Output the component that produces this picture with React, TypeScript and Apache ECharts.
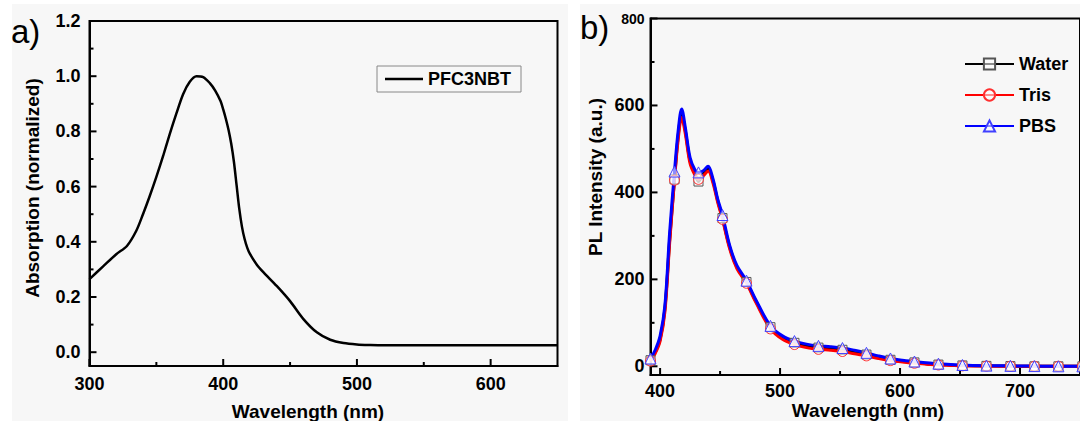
import React, { useEffect, useRef } from 'react';
import * as echarts from 'echarts';

const FONT = '"Liberation Sans", Arial, sans-serif';

// Panel a) absorption
const absWavelength = [300, 310, 320, 328, 335, 340, 345, 350, 355, 360, 365, 370, 375, 380, 385, 390, 394, 398, 400, 402, 404, 406, 408, 410, 412, 414, 416, 418, 420, 425, 430, 440, 450, 460, 470, 480, 490, 500, 510, 520, 560, 600, 650];
const absValue = [0.265, 0.31, 0.355, 0.385, 0.44, 0.5, 0.565, 0.635, 0.71, 0.79, 0.865, 0.935, 0.98, 1.0, 0.997, 0.975, 0.948, 0.91, 0.88, 0.845, 0.805, 0.755, 0.69, 0.605, 0.52, 0.455, 0.41, 0.378, 0.356, 0.318, 0.29, 0.24, 0.185, 0.12, 0.072, 0.045, 0.033, 0.028, 0.026, 0.025, 0.025, 0.025, 0.025];

// Panel b) PL spectra
const plWavelength = [392, 396, 400, 404, 408, 412, 415, 418, 421, 425, 429, 432, 436, 440, 444, 448, 452, 458, 464, 472, 480, 492, 502, 512, 522, 532, 542, 552, 562, 572, 582, 592, 602, 612, 622, 632, 642, 652, 672, 692, 712, 732, 752];
const waterPL = [14, 33, 62, 132, 292, 430, 528, 580, 542, 472, 444, 425, 443, 454, 427, 381, 341, 274, 228, 194, 149, 90, 66, 54, 47, 43, 41, 38, 33, 27, 21, 15, 12, 9, 6, 4, 3, 2, 1, 0.5, 0, 0, 0];
const trisPL = [12, 30, 58, 125, 285, 428, 520, 572, 535, 466, 440, 430, 438, 449, 422, 377, 338, 270, 225, 191, 146, 86, 62, 50, 43, 39, 37, 34, 29, 24, 18, 13, 10, 7, 5, 3, 2, 1, 0.5, 0, 0, 0, 0];
const pbsPL = [18, 38, 70, 140, 310, 448, 540, 592, 550, 480, 452, 446, 450, 460, 432, 385, 348, 278, 232, 197, 152, 93, 70, 58, 51, 47, 45, 42, 37, 31, 24, 18, 14, 11, 8, 6, 4, 3, 1.5, 1, 0.5, 0, 0];
const markerWavelengths = [392, 412, 432, 452, 472, 492, 512, 532, 552, 572, 592, 612, 632, 652, 672, 692, 712, 732, 752];

// Axis ranges and tick values
const absXRange = [300, 650];
const absYRange = [-0.05, 1.2];
const plXRange = [392, 750];
const plYRange = [-20, 800];
const absXMajor = [300, 400, 500, 600];
const absXMinor = [350, 450, 550];
const absYMajor = [0, 0.2, 0.4, 0.6, 0.8, 1.0, 1.2];
const absYMinor = [0.1, 0.3, 0.5, 0.7, 0.9, 1.1];
const plXMajor = [400, 500, 600, 700];
const plXMinor = [450, 550, 650];
const plYMajor = [0, 200, 400, 600, 800];
const plYMinor = [100, 300, 500, 700];

const MAJOR_LEN = 7;
const MINOR_LEN = 4;

const labelStyle = { fontSize: 18, fontWeight: 'bold', color: '#000', fontFamily: FONT };

function mainAxis(gridIndex: number, range: number[], position: string, values: number[], margin: number, formatter?: any) {
  const label: any = { ...labelStyle, margin, customValues: values };
  if (formatter) label.formatter = formatter;
  return {
    type: 'value',
    gridIndex,
    min: range[0],
    max: range[1],
    position,
    axisLine: { show: true, onZero: false, lineStyle: { color: '#000', width: 2 } },
    axisTick: { show: false },
    axisLabel: label,
    splitLine: { show: false },
  };
}

// inward tick marks drawn through the axes' scales (custom series)
function tickSeries(name: string, axisIndex: number, dir: 'x' | 'y', major: number[], minor: number[], otherMin: number) {
  const items = major.map((v) => [v, MAJOR_LEN]).concat(minor.map((v) => [v, MINOR_LEN]));
  const data = items.map(([v, len]) => (dir === 'x' ? [v, otherMin, len] : [otherMin, v, len]));
  return {
    type: 'custom',
    name,
    xAxisIndex: axisIndex,
    yAxisIndex: axisIndex,
    clip: false,
    silent: true,
    z: 3,
    data,
    encode: { x: 0, y: 1 },
    renderItem: (params: any, api: any) => {
      const cs = params.coordSys;
      const len = api.value(2);
      const p = api.coord([api.value(0), api.value(1)]);
      if (dir === 'x') {
        const yb = cs.y + cs.height;
        return { type: 'line', shape: { x1: p[0], y1: yb, x2: p[0], y2: yb - len }, style: { stroke: '#000', lineWidth: 2 } };
      }
      const xl = cs.x;
      return { type: 'line', shape: { x1: xl, y1: p[1], x2: xl + len, y2: p[1] }, style: { stroke: '#000', lineWidth: 2 } };
    },
  };
}

function plData(values: number[]) {
  const marks = new Set(markerWavelengths);
  return plWavelength.map((w, i) => (marks.has(w) ? [w, values[i]] : { value: [w, values[i]], symbol: 'none' }));
}

function plSeries(name: string, values: number[], lineColor: string, symbol: string, borderColor: string, size: number) {
  return {
    type: 'line',
    name,
    xAxisIndex: 1,
    yAxisIndex: 1,
    data: plData(values),
    smooth: 0.35,
    clip: false,
    symbol,
    symbolSize: size,
    showSymbol: true,
    showAllSymbol: true,
    lineStyle: { color: lineColor, width: 3 },
    itemStyle: { color: 'rgba(255,255,255,0.55)', borderColor, borderWidth: 1 },
    emphasis: { disabled: true },
  };
}

export default function App() {
  const ref = useRef<HTMLDivElement>(null);
  useEffect(() => {
    if (!ref.current) return;
    const chart = echarts.init(ref.current, undefined, { renderer: 'svg' });
    const plYLabel: any = mainAxis(1, plYRange, 'left', plYMajor, 6, (v: number) => (v === 800 ? '{s|800}' : String(v)));
    plYLabel.axisLabel.rich = { s: { fontSize: 14, fontWeight: 'bold', color: '#000', fontFamily: FONT } };
    const option: any = {
      animation: false,
      backgroundColor: 'transparent',
      textStyle: { fontFamily: FONT },
      grid: [
        { left: 89.5, top: 21, width: 468, height: 345, show: true, borderColor: '#000', borderWidth: 2, backgroundColor: 'transparent', containLabel: false },
        { left: 650.5, top: 18.5, width: 438.5, height: 356.5, show: true, borderColor: '#000', borderWidth: 2, backgroundColor: 'transparent', containLabel: false },
      ],
      xAxis: [
        mainAxis(0, absXRange, 'bottom', absXMajor, 9),
        mainAxis(1, plXRange, 'bottom', plXMajor, 7),
      ],
      yAxis: [
        mainAxis(0, absYRange, 'left', absYMajor, 9, (v: number) => v.toFixed(1)),
        plYLabel,
      ],
      legend: [
        {
          data: ['PFC3NBT'],
          icon: 'rect',
          left: 377,
          top: 66,
          orient: 'horizontal',
          itemWidth: 38,
          itemHeight: 2.5,
          padding: [4, 10, 4, 8],
          borderColor: '#888',
          borderWidth: 1,
          textStyle: { fontSize: 18, fontWeight: 'bold', color: '#000', fontFamily: FONT, lineHeight: 18 },
          selectedMode: false,
        },
        {
          data: ['Water', 'Tris', 'PBS'],
          left: 964,
          top: 55,
          orient: 'vertical',
          itemWidth: 49,
          itemHeight: 14,
          itemGap: 13,
          padding: 0,
          textStyle: { fontSize: 18, fontWeight: 'bold', color: '#000', fontFamily: FONT },
          selectedMode: false,
        },
      ],
      series: [
        {
          type: 'line',
          name: 'PFC3NBT',
          xAxisIndex: 0,
          yAxisIndex: 0,
          data: absWavelength.map((w, i) => [w, absValue[i]]),
          smooth: 0.3,
          symbol: 'none',
          lineStyle: { color: '#000', width: 2.5 },
          itemStyle: { color: '#000' },
          emphasis: { disabled: true },
        },
        plSeries('Water', waterPL, '#000000', 'rect', '#555555', 9),
        plSeries('Tris', trisPL, '#ff0000', 'circle', '#ff3030', 10),
        plSeries('PBS', pbsPL, '#0000ff', 'triangle', '#4040ff', 11),
        tickSeries('ticks-a-x', 0, 'x', absXMajor, absXMinor, absYRange[0]),
        tickSeries('ticks-a-y', 0, 'y', absYMajor, absYMinor, absXRange[0]),
        tickSeries('ticks-b-x', 1, 'x', plXMajor, plXMinor, plYRange[0]),
        tickSeries('ticks-b-y', 1, 'y', plYMajor, plYMinor, plXRange[0]),
      ],
      graphic: {
        elements: [
          { type: 'text', x: 11, y: 31, style: { text: 'a)', fontSize: 33, fontFamily: FONT, fill: '#000', textAlign: 'left', textVerticalAlign: 'middle' } },
          { type: 'text', x: 580, y: 27, style: { text: 'b)', fontSize: 33, fontFamily: FONT, fill: '#000', textAlign: 'left', textVerticalAlign: 'middle' } },
          { type: 'text', x: 32, y: 188, rotation: Math.PI / 2, style: { text: 'Absorption (normalized)', fontSize: 19, fontWeight: 'bold', fontFamily: FONT, fill: '#000', textAlign: 'center', textVerticalAlign: 'middle' } },
          { type: 'text', x: 308, y: 411, style: { text: 'Wavelength (nm)', fontSize: 19, fontWeight: 'bold', fontFamily: FONT, fill: '#000', textAlign: 'center', textVerticalAlign: 'middle' } },
          { type: 'text', x: 595, y: 177, rotation: Math.PI / 2, style: { text: 'PL Intensity (a.u.)', fontSize: 19, fontWeight: 'bold', fontFamily: FONT, fill: '#000', textAlign: 'center', textVerticalAlign: 'middle' } },
          { type: 'text', x: 868, y: 410, style: { text: 'Wavelength (nm)', fontSize: 19, fontWeight: 'bold', fontFamily: FONT, fill: '#000', textAlign: 'center', textVerticalAlign: 'middle' } },
        ],
      },
    };
    chart.setOption(option);
    return () => chart.dispose();
  }, []);
  const panel = (left: number, width: number) => (
    <div style={{ position: 'absolute', left, top: 4, width, height: 417, background: '#f7f7f7' }} />
  );
  return (
    <div style={{ position: 'absolute', left: 0, top: 0, width: 1080, height: 421, background: '#ffffff', overflow: 'hidden' }}>
      {panel(12, 556)}
      {panel(580, 500)}
      <div ref={ref} style={{ position: 'absolute', left: 0, top: 0, width: 1080, height: 421 }} />
    </div>
  );
}
